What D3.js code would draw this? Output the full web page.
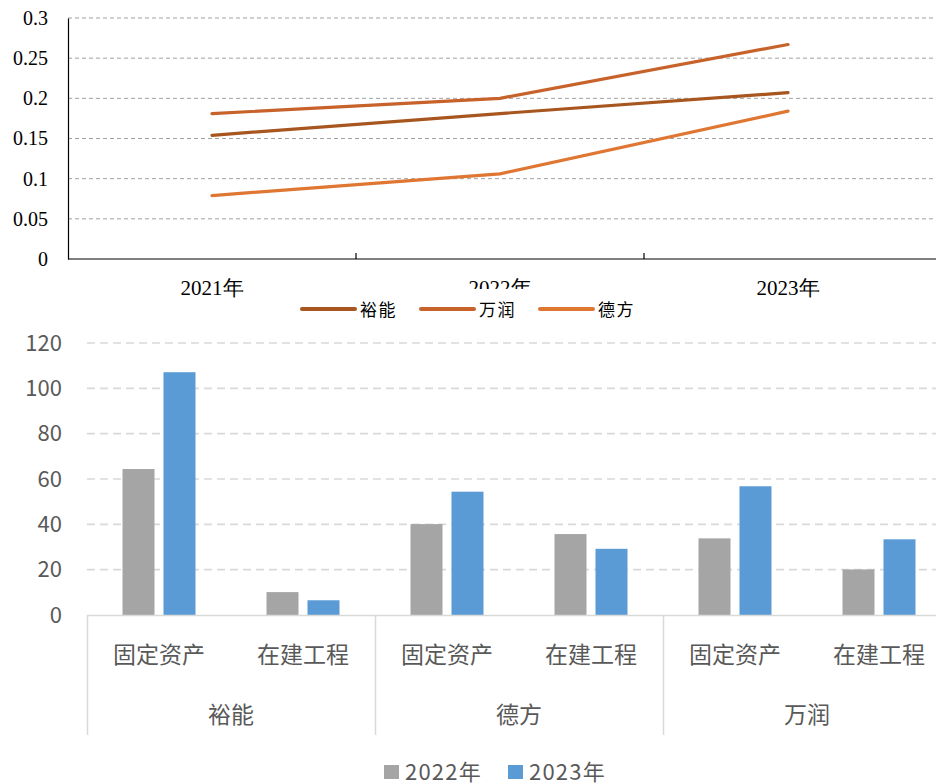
<!DOCTYPE html>
<html>
<head>
<meta charset="utf-8">
<script src="https://cdn.jsdelivr.net/npm/d3@7/dist/d3.min.js"></script>
<style>
  html, body { margin: 0; padding: 0; background: #fff; }
  svg { display: block; }
</style>
</head>
<body>
<svg id="chart" width="936" height="784"></svg>
<script>
// ---------- Data ----------
const years = ["2021年", "2022年", "2023年"];
const lineCompanies = ["裕能", "万润", "德方"];
const yunengRatio = [0.154, 0.181, 0.207];
const wanrunRatio = [0.181, 0.200, 0.267];
const defangRatio = [0.079, 0.106, 0.184];
const lineTicks = [0, 0.05, 0.1, 0.15, 0.2, 0.25, 0.3];
const lineTickLabels = ["0", "0.05", "0.1", "0.15", "0.2", "0.25", "0.3"];

const groups = ["裕能", "德方", "万润"];
const items = ["固定资产", "在建工程"];
const barSeries = ["2022年", "2023年"];
// values ordered: 裕能 固定资产, 裕能 在建工程, 德方 固定资产, 德方 在建工程, 万润 固定资产, 万润 在建工程
const values2022 = [64.4, 10.1, 40.1, 35.7, 33.8, 20.1];
const values2023 = [107.1, 6.5, 54.4, 29.2, 56.8, 33.4];
const barTicks = [0, 20, 40, 60, 80, 100, 120];

const lineColors = ["#A8561F", "#C6622A", "#DF7732"];
const barColors = ["#A5A5A5", "#5B9BD5"];

const svg = d3.select("#chart");

// ---------- Top line chart ----------
const serif = "'Liberation Serif', 'Times New Roman', serif";
const cjk = "'Noto Sans CJK SC', 'Noto Sans', sans-serif";

const ty = d3.scaleLinear().domain([0, 0.3]).range([259, 18]);
const tx = d3.scaleBand().domain(years).range([68, 932]).padding(0);

const topG = svg.append("g");

// gridlines
topG.append("g").selectAll("line").data(lineTicks.filter(d => d > 0)).join("line")
  .attr("x1", 68).attr("x2", 936)
  .attr("y1", d => ty(d)).attr("y2", d => ty(d))
  .attr("stroke", "#A0A0A0").attr("stroke-width", 1)
  .attr("stroke-dasharray", "4,3");

// y axis
const yAxisTop = d3.axisLeft(ty).tickValues(lineTicks)
  .tickFormat((d, i) => lineTickLabels[i]).tickSize(0).tickPadding(20);
topG.append("g").attr("transform", "translate(68,0)").call(yAxisTop)
  .call(g => g.select(".domain").attr("stroke", "#000").attr("stroke-width", 1.2))
  .call(g => g.selectAll("text").attr("font-family", serif).attr("font-size", 20).attr("fill", "#000"));

// x axis
topG.append("line").attr("x1", 68).attr("x2", 936).attr("y1", 259).attr("y2", 259)
  .attr("stroke", "#000").attr("stroke-width", 1.2);
topG.append("g").selectAll("line").data(years.slice(1)).join("line")
  .attr("x1", d => tx(d)).attr("x2", d => tx(d))
  .attr("y1", 253).attr("y2", 259)
  .attr("stroke", "#000").attr("stroke-width", 1.2);
topG.append("g").selectAll("text").data(years).join("text")
  .attr("x", d => tx(d) + tx.bandwidth() / 2).attr("y", 295)
  .attr("text-anchor", "middle")
  .attr("font-family", serif).attr("font-size", 21).attr("fill", "#000")
  .text(d => d);

// lines
const lineData = [yunengRatio, wanrunRatio, defangRatio];
const lineGen = d3.line()
  .x((d, i) => tx(years[i]) + tx.bandwidth() / 2)
  .y(d => ty(d));
topG.append("g").selectAll("path").data(lineData).join("path")
  .attr("d", d => lineGen(d))
  .attr("fill", "none")
  .attr("stroke", (d, i) => lineColors[i])
  .attr("stroke-width", 3.2)
  .attr("stroke-linecap", "round")
  .attr("stroke-linejoin", "round");

// legend (with white background that overlaps the middle label)
const legTop = topG.append("g");
legTop.append("rect").attr("x", 295).attr("y", 289).attr("width", 350).attr("height", 34).attr("fill", "#fff");
const legX = [302, 421, 540];
lineCompanies.forEach((name, i) => {
  legTop.append("line")
    .attr("x1", legX[i]).attr("x2", legX[i] + 53)
    .attr("y1", 309).attr("y2", 309)
    .attr("stroke", lineColors[i]).attr("stroke-width", 4).attr("stroke-linecap", "round");
  legTop.append("text")
    .attr("x", legX[i] + 58).attr("y", 315.5)
    .attr("font-family", cjk).attr("font-size", 17).attr("letter-spacing", 1.5).attr("fill", "#000")
    .text(name);
});

// ---------- Bottom bar chart ----------
const by = d3.scaleLinear().domain([0, 120]).range([615, 343]);
const bx0 = d3.scaleBand().domain(groups).range([87, 951]).padding(0);
const bx1 = d3.scaleBand().domain(items).range([0, bx0.bandwidth()]).padding(0);
const bx2 = d3.scaleBand().domain(barSeries).range([0, bx1.bandwidth()])
  .paddingInner(9 / 41).paddingOuter(0.866);

const botG = svg.append("g");

// gridlines
botG.append("g").selectAll("line").data(barTicks.filter(d => d > 0)).join("line")
  .attr("x1", 87).attr("x2", 936)
  .attr("y1", d => by(d)).attr("y2", d => by(d))
  .attr("stroke", "#D9D9D9").attr("stroke-width", 1.6)
  .attr("stroke-dasharray", "8,5");

// y axis labels
const yAxisBot = d3.axisLeft(by).tickValues(barTicks).tickSize(0).tickPadding(25);
botG.append("g").attr("transform", "translate(87,0)").call(yAxisBot)
  .call(g => g.select(".domain").remove())
  .call(g => g.selectAll("text").attr("font-family", cjk).attr("font-size", 22).attr("fill", "#595959"));

// bars
const barRows = [];
groups.forEach((g, gi) => {
  items.forEach((it, ii) => {
    const idx = gi * items.length + ii;
    barRows.push({ group: g, item: it, series: barSeries[0], value: values2022[idx], ci: 0 });
    barRows.push({ group: g, item: it, series: barSeries[1], value: values2023[idx], ci: 1 });
  });
});
botG.append("g").selectAll("rect").data(barRows).join("rect")
  .attr("x", d => bx0(d.group) + bx1(d.item) + bx2(d.series))
  .attr("width", bx2.bandwidth())
  .attr("y", d => by(d.value))
  .attr("height", d => by(0) - by(d.value))
  .attr("fill", d => barColors[d.ci]);

// category axis
botG.append("line").attr("x1", 87).attr("x2", 936).attr("y1", 615.5).attr("y2", 615.5)
  .attr("stroke", "#D9D9D9").attr("stroke-width", 1.5);
botG.append("g").selectAll("line").data(groups).join("line")
  .attr("x1", d => bx0(d) + 0.5).attr("x2", d => bx0(d) + 0.5)
  .attr("y1", 615).attr("y2", 735)
  .attr("stroke", "#D9D9D9").attr("stroke-width", 1.5);

const itemLabels = [];
groups.forEach(g => items.forEach(it => itemLabels.push({ group: g, item: it })));
botG.append("g").selectAll("text").data(itemLabels).join("text")
  .attr("x", d => bx0(d.group) + bx1(d.item) + bx1.bandwidth() / 2)
  .attr("y", 655).attr("dy", "0.36em")
  .attr("text-anchor", "middle")
  .attr("font-family", cjk).attr("font-size", 23).attr("fill", "#595959")
  .text(d => d.item);
botG.append("g").selectAll("text").data(groups).join("text")
  .attr("x", d => bx0(d) + bx0.bandwidth() / 2)
  .attr("y", 715).attr("dy", "0.36em")
  .attr("text-anchor", "middle")
  .attr("font-family", cjk).attr("font-size", 23).attr("fill", "#595959")
  .text(d => d);

// legend
const legB = botG.append("g");
const legBX = [384, 508];
barSeries.forEach((s, i) => {
  legB.append("rect").attr("x", legBX[i]).attr("y", 765).attr("width", 15).attr("height", 14)
    .attr("fill", barColors[i]);
  legB.append("text").attr("x", legBX[i] + 21).attr("y", 779.5)
    .attr("font-family", cjk).attr("font-size", 22).attr("letter-spacing", 1.2).attr("fill", "#595959")
    .text(s);
});
</script>
</body>
</html>
